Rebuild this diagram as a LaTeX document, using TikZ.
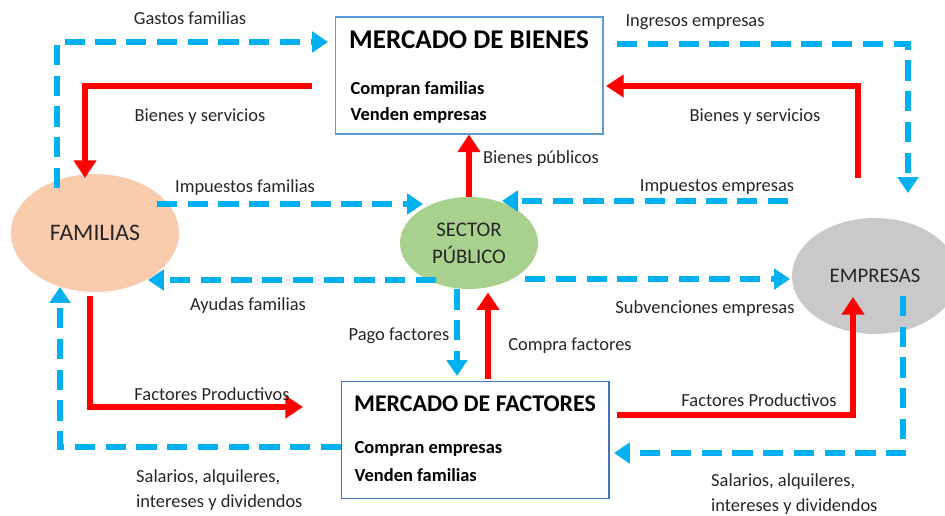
\documentclass[tikz,border=0pt]{standalone}
\usepackage{fontspec}
\setmainfont{Carlito}
\usetikzlibrary{positioning, shapes.geometric, arrows.meta, calc}
\definecolor{flujoazul}{HTML}{00B0F0}
\definecolor{flujorojo}{HTML}{FF0000}
\definecolor{colfamilia}{HTML}{F8CBAD}
\definecolor{colsector}{HTML}{A9D18E}
\definecolor{colempresa}{HTML}{C9C9C9}
\definecolor{bordebienes}{HTML}{5B9BD5}
\definecolor{bordefactores}{HTML}{4472C4}

\begin{document}
\begin{tikzpicture}[
  x=0.02cm, y=-0.02cm,
  every node/.style={font=\fontsize{10.5}{14.7}\selectfont, text=black!85},
  dinero/.style={draw=flujoazul, line width=3pt, dash pattern=on 11.5pt off 6pt,
    -{Triangle[width=11.5pt,length=9pt]}},
  real/.style={draw=flujorojo, line width=3.4pt, -{Triangle[width=12.5pt,length=10pt]}},
  agente/.style={ellipse, inner sep=0pt, font=\fontsize{11.8}{15.3}\selectfont, align=center},
  mercado/.style={draw, line width=0.6pt, minimum width=5.36cm, minimum height=2.34cm, inner sep=0pt},
  titulo/.style={font=\fontsize{15.4}{18}\selectfont\bfseries, text=black},
  linea/.style={font=\fontsize{10.5}{12}\selectfont\bfseries, text=black, anchor=west},
]
  \useasboundingbox (0,0) rectangle (945,516);

  % agentes
  \node[agente, fill=colfamilia, minimum width=3.36cm, minimum height=2.36cm,
        font=\fontsize{13.5}{15}\selectfont] (fam) at (95,233) {FAMILIAS};
  \node[agente, fill=colsector, minimum width=2.76cm, minimum height=1.84cm] (sp) at (469,243)
    {SECTOR\\PÚBLICO};
  \node[agente, fill=colempresa, minimum width=3.32cm, minimum height=2.32cm] (emp) at (875,276)
    {EMPRESAS};

  % mercados
  \node[mercado, draw=bordebienes] (bienes) at (469,75.5) {};
  \node[titulo] (tbienes) at ($(bienes.north)+(0,23)$) {MERCADO DE BIENES};
  \node[linea] (cbienes) at ($(bienes.west)+(10,13.5)$) {Compran familias};
  \node[linea] (vbienes) at ($(bienes.west)+(10,39.5)$) {Venden empresas};

  \node[mercado, draw=bordefactores] (factores) at (475,440) {};
  \node[titulo, font=\fontsize{13.6}{16}\selectfont\bfseries] (tfactores)
    at ($(factores.north)+(0,23)$) {MERCADO DE FACTORES};
  \node[linea] (cfactores) at ($(factores.west)+(8,9)$) {Compran empresas};
  \node[linea] (vfactores) at ($(factores.west)+(8,35)$) {Venden familias};

  % puntos de los flujos
  \coordinate (gf0) at (57,188);
  \coordinate (gf1) at (328,42);
  \coordinate (bs0) at (312,86);
  \coordinate (bs1) at (85,178);
  \coordinate (if0) at (157,204);
  \coordinate (if1) at (423,204);
  \coordinate (ie0) at (617,44);
  \coordinate (ie1) at (908,193);
  \coordinate (bd0) at (858,178);
  \coordinate (bd1) at (606,86);
  \coordinate (im0) at (788,201);
  \coordinate (im1) at (502,201);
  \coordinate (af0) at (436,280);
  \coordinate (af1) at (148,280);
  \coordinate (se0) at (525,279);
  \coordinate (se1) at (790,279);
  \coordinate (fp0) at (90,296);
  \coordinate (fp1) at (303,407);
  \coordinate (sa0) at (341,447);
  \coordinate (sa1) at (60,287);
  \coordinate (fd0) at (617,415);
  \coordinate (fd1) at (853,297);
  \coordinate (sd0) at (903,296);
  \coordinate (sd1) at (614,453);

  % flujos de dinero
  \draw[dinero] (gf0) |- (gf1);
  \draw[dinero] (if0) -- (if1);
  \draw[dinero] (ie0) -| (ie1);
  \draw[dinero] (im0) -- (im1);
  \draw[dinero] (af0) -- (af1);
  \draw[dinero] (se0) -- (se1);
  \draw[dinero] ($(sp.south)+(-12,0)$) -- ($(factores.north)+(-18,-5)$);
  \draw[dinero] (sa0) -| (sa1);
  \draw[dinero] (sd0) |- (sd1);

  % flujos reales
  \draw[real] (bs0) -| (bs1);
  \draw[real] (bd0) |- (bd1);
  \draw[real] (sp.north) -- (bienes.south);
  \draw[real] ($(factores.north)+(13,-2)$) -- ($(sp.south)+(19,3)$);
  \draw[real] (fp0) |- (fp1);
  \draw[real] (fd0) -| (fd1);

  % etiquetas
  \node (lgf) at (190,18) {Gastos familias};
  \node (lbs) at (200,117) {Bienes y servicios};
  \node (lif) at (245,188) {Impuestos familias};
  \node (lbp) at (541,159) {Bienes públicos};
  \node (lie) at (695,22) {Ingresos empresas};
  \node (lbd) at (755,117) {Bienes y servicios};
  \node (lim) at (717,187) {Impuestos empresas};
  \node (laf) at (248,306) {Ayudas familias};
  \node (lse) at (705,309) {Subvenciones empresas};
  \node (lpf) at (399,336) {Pago factores};
  \node (lcf) at (570,346) {Compra factores};
  \node (lfp) at (212,394) {Factores Productivos};
  \node (lfd) at (759,400) {Factores Productivos};
  \node[anchor=west, align=left] (lsa) at (130,490) {Salarios, alquileres,\\intereses y dividendos};
  \node[anchor=west, align=left] (lsd) at (705,494) {Salarios, alquileres,\\intereses y dividendos};
\end{tikzpicture}
\end{document}
